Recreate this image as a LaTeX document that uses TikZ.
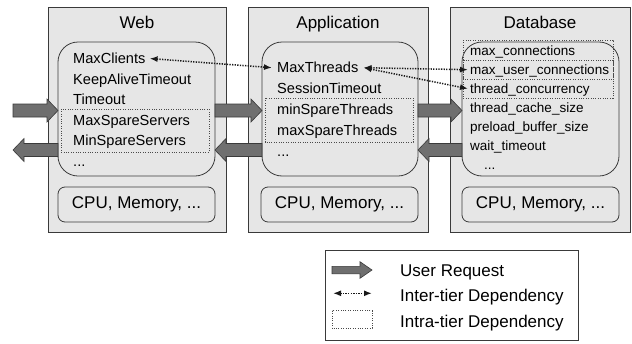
\documentclass[tikz,border=0pt]{standalone}
\usepackage{fontspec}
\setmainfont{Liberation Sans}
\usetikzlibrary{arrows.meta,calc}
\definecolor{tierfill}{HTML}{E6E6E6}
\definecolor{linecol}{HTML}{3A3A3A}
\definecolor{arrfill}{HTML}{6F6F6F}
\definecolor{dotcol}{HTML}{4A4A4A}
\newcommand\blockR[3]{%
  \draw[blockarr] (#1,#3-6.5) -- (#2-11,#3-6.5) -- (#2-11,#3-11.5) -- (#2,#3) -- (#2-11,#3+11.5) -- (#2-11,#3+6.5) -- (#1,#3+6.5) -- cycle;}
\newcommand\blockL[3]{%
  \draw[blockarr] (#2,#3-6.5) -- (#1+11,#3-6.5) -- (#1+11,#3-11.5) -- (#1,#3) -- (#1+11,#3+11.5) -- (#1+11,#3+6.5) -- (#2,#3+6.5) -- cycle;}
\begin{document}
\begin{tikzpicture}[x=1pt,y=-1pt,
  tier/.style={draw=linecol, line width=0.8pt, fill=tierfill, minimum width=#1, minimum height=225, inner sep=0},
  inbox/.style={draw=linecol, line width=0.8pt, fill=tierfill, rounded corners=20pt, minimum width=#1, minimum height=134, inner sep=0},
  cpubox/.style={draw=linecol, line width=0.8pt, fill=tierfill, rounded corners=7pt, minimum width=#1, minimum height=35, inner sep=0, font=\fontsize{17}{20}\selectfont},
  title/.style={anchor=base, inner sep=0, font=\fontsize{17}{20}\selectfont},
  item/.style={anchor=base west, inner sep=0, text height=11pt, text depth=1pt, font=\fontsize{14.6}{17}\selectfont},
  dbitem/.style={anchor=base west, inner sep=0, text height=11pt, text depth=1pt, font=\fontsize{13.5}{16}\selectfont},
  legtext/.style={anchor=base west, inner sep=0, font=\fontsize{17}{20}\selectfont},
  intra/.style={draw=dotcol, line width=1pt, dash pattern=on 1pt off 1.4pt},
  dep/.style={{Latex[length=8pt,width=6pt]}-{Latex[length=8pt,width=6pt]}, line width=1.5pt, dash pattern=on 1.3pt off 1.3pt, black!90},
  blockarr/.style={draw=linecol, line width=0.6pt, fill=arrfill}
]
\useasboundingbox (0,0) rectangle (632,343);
% tiers
\node[tier=178] (web) at (137,119.5) {};
\node[tier=180] (app) at (338,119.5) {};
\node[tier=180] (db)  at (540,119.5) {};
\node[title] (webt) at (137,28.5) {Web};
\node[title] (appt) at (338,28.5) {Application};
\node[title] (dbt)  at (540,28.5) {Database};
% inner boxes
\node[inbox=157] (webin) at (136.5,109) {};
\node[inbox=156] (appin) at (340,109) {};
\node[inbox=157] (dbin)  at (540.5,109) {};
\node[cpubox=157] (webcpu) at (136.5,204.5) {CPU, Memory, ...};
\node[cpubox=157] (appcpu) at (339.5,204.5) {CPU, Memory, ...};
\node[cpubox=157] (dbcpu)  at (540.5,204.5) {CPU, Memory, ...};
% web items
\node[item] (mc)  at (73,63.5) {MaxClients};
\node[item] (kat) at (73,84) {KeepAliveTimeout};
\node[item] (wto) at (73,104.5) {Timeout};
\node[item] (mxs) at (73,125) {MaxSpareServers};
\node[item] (mns) at (73,145.5) {MinSpareServers};
\node[item] (wdots) at (73,166) {...};
% app items
\node[item] (mt)  at (277,72.7) {MaxThreads};
\node[item] (sto) at (277,93.5) {SessionTimeout};
\node[item] (mnt) at (277,114.3) {minSpareThreads};
\node[item] (mxt) at (277,135) {maxSpareThreads};
\node[item] (adots) at (277,156) {...};
% db items
\node[dbitem] (mcon) at (470,55.7) {max\_connections};
\node[dbitem] (muc)  at (470,74.7) {max\_user\_connections};
\node[dbitem] (tc)   at (470,93.7) {thread\_concurrency};
\node[dbitem] (tcs)  at (470,112.7) {thread\_cache\_size};
\node[dbitem] (pbs)  at (470,131.7) {preload\_buffer\_size};
\node[dbitem] (wt)   at (470,150.7) {wait\_timeout};
\node[dbitem] (ddots) at (484,169.7) {...};
% intra-tier boxes
\draw[intra] (61,109) rectangle (209,152);
\draw[intra] (265,98) rectangle (413,142);
\draw[intra] (463,40) rectangle (613,79);
\draw[intra] (463,60) rectangle (613,98);
% block arrows
\blockR{13}{58}{110.5}
\blockR{215}{262}{110.5}
\blockR{418}{462}{110.5}
\blockL{13}{58}{150}
\blockL{215}{262}{150}
\blockL{418}{462}{150}
% inter-tier dependencies
\draw[dep] ($(mc.east)+(4,0)$) -- ($(mt.west)+(-5,0)$);
\draw[dep] ($(mt.east)+(5,0)$) -- ($(muc.west)+(-2,0)$);
\draw[dep] ($(mt.east)+(5,0)$) -- ($(tc.west)+(-2,0)$);
% legend
\node[draw=linecol, line width=0.8pt, fill=white, minimum width=253, minimum height=90, inner sep=0] (legend) at (451.5,295) {};
\draw[draw=linecol, line width=0.6pt, fill=arrfill] (332,266.3) -- (360,266.3) -- (360,261.7) -- (372,270) -- (360,278.3) -- (360,273.7) -- (332,273.7) -- cycle;
\coordinate (la) at (333,293.3);
\coordinate (lb) at (372,293.3);
\draw[dep] (la) -- (lb);
\draw[intra] (332,310.7) rectangle (372,328.3);
\node[legtext] (l1) at (400,276.7) {User Request};
\node[legtext] (l2) at (400,301.7) {Inter-tier Dependency};
\node[legtext] (l3) at (400,327.3) {Intra-tier Dependency};
\end{tikzpicture}
\end{document}
